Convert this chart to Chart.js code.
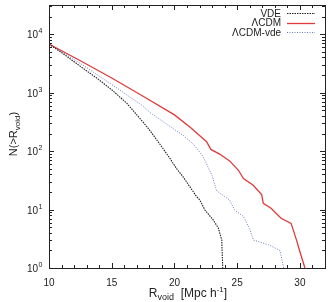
<!DOCTYPE html>
<html><head><meta charset="utf-8">
<script src="https://cdn.jsdelivr.net/npm/chart.js@4"></script>
<style>html,body{margin:0;padding:0;background:#fff}</style>
</head><body>
<canvas id="c" width="331" height="302"></canvas>
<script>
// ---- data ----
const vdeR  = [10, 11.3, 12.5, 13.8, 15, 16.2, 17.0, 17.6, 18.05, 18.9, 19.64, 20.17, 20.7, 21.2, 21.77, 22.03, 22.43, 23.1, 23.5, 23.77, 23.85];
const vdeN  = [6800, 4360, 2820, 1780, 1120, 660, 417, 295, 224, 126, 75, 50, 36, 25, 16.6, 14.5, 9.8, 6.6, 4.8, 3.0, 1];
const lcdmR = [10, 12.5, 15, 17.5, 20, 21.3, 22.56, 22.9, 23.6, 24.4, 25.1, 25.5, 26.28, 26.95, 27.08, 27.7, 28.5, 29.3, 29.73, 30.0, 30.4];
const lcdmN = [6800, 3510, 1780, 870, 417, 251, 145, 107, 89, 68, 47, 34, 26, 18, 12.8, 10.5, 7.1, 5.8, 3.0, 1.9, 1];
const lvdeR = [10, 12.5, 15, 17.5, 18.05, 20.0, 20.7, 21.5, 22.3, 22.7, 23.0, 23.36, 24.4, 24.8, 25.5, 26.0, 26.3, 27.5, 28.4, 28.6, 28.7];
const lvdeN = [6800, 3160, 1380, 590, 457, 234, 186, 132, 80, 52, 38, 21, 14.5, 9.8, 7.6, 4.6, 3.0, 2.5, 2.0, 1.3, 1];
const seriesNames = ['VDE', 'ΛCDM', 'ΛCDM-vde'];
const xTickValues = [10, 15, 20, 25, 30];
const yTickExps = [0, 1, 2, 3, 4];

const pts = (xs, ys) => xs.map((x, i) => ({x: x, y: ys[i]}));

const axesPlugin = {
  id: 'gnuplotAxes',
  afterDraw(chart) {
    const ctx = chart.ctx, a = chart.chartArea;
    const xs = chart.scales.x, ys = chart.scales.y;
    ctx.save();
    ctx.strokeStyle = '#222'; ctx.lineWidth = 1;
    ctx.strokeRect(Math.round(a.left) + 0.5, Math.round(a.top) + 0.5, Math.round(a.right - a.left), Math.round(a.bottom - a.top));
    ctx.beginPath();
    for (let v = 10; v <= 32; v++) {
      const px = Math.round(xs.getPixelForValue(v)) + 0.5;
      const len = (v % 5 === 0) ? 5 : 3;
      ctx.moveTo(px, a.bottom); ctx.lineTo(px, a.bottom - len);
      ctx.moveTo(px, a.top); ctx.lineTo(px, a.top + len);
    }
    for (let e = 0; e <= 4; e++) {
      for (let m = 1; m <= 9; m++) {
        const v = m * Math.pow(10, e);
        if (v > ys.max) break;
        const py = Math.round(ys.getPixelForValue(v)) + 0.5;
        const len = m === 1 ? 5 : 3;
        ctx.moveTo(a.left, py); ctx.lineTo(a.left + len, py);
        ctx.moveTo(a.right, py); ctx.lineTo(a.right - len, py);
      }
    }
    ctx.stroke();

    ctx.fillStyle = '#222';
    ctx.font = '10px "Liberation Sans", Arial, sans-serif';
    ctx.textAlign = 'center'; ctx.textBaseline = 'alphabetic';
    xTickValues.forEach(v => ctx.fillText(String(v), xs.getPixelForValue(v), a.bottom + 18));
    yTickExps.forEach(e => {
      const py = ys.getPixelForValue(Math.pow(10, e));
      ctx.font = '10px "Liberation Sans", Arial, sans-serif';
      ctx.textAlign = 'right';
      const supW = 5;
      const right = a.left - 6;
      ctx.fillText('10', right - supW, py + 4);
      ctx.font = '7px "Liberation Sans", Arial, sans-serif';
      ctx.textAlign = 'left';
      ctx.fillText(String(e), right - supW + 0.5, py - 1);
    });

    {
      const y = 297;
      const parts = [
        {t: 'R', f: 12, dy: 0},
        {t: 'void', f: 9, dy: 3},
        {t: '  [Mpc h', f: 12, dy: 0},
        {t: '-1', f: 8, dy: -5},
        {t: ']', f: 12, dy: 0}
      ];
      let w = 0;
      parts.forEach(p => { ctx.font = p.f + 'px "Liberation Sans", Arial, sans-serif'; p.w = ctx.measureText(p.t).width; w += p.w; });
      let x = 188 - w / 2;
      ctx.textAlign = 'left';
      parts.forEach(p => { ctx.font = p.f + 'px "Liberation Sans", Arial, sans-serif'; ctx.fillText(p.t, x, y + p.dy); x += p.w; });
    }
    {
      ctx.save();
      ctx.translate(17, 134);
      ctx.rotate(-Math.PI / 2);
      const parts = [
        {t: 'N(>R', f: 11, dy: 0},
        {t: 'void', f: 8, dy: 3},
        {t: ')', f: 11, dy: 0}
      ];
      let w = 0;
      parts.forEach(p => { ctx.font = p.f + 'px "Liberation Sans", Arial, sans-serif'; p.w = ctx.measureText(p.t).width; w += p.w; });
      let x = -w / 2;
      ctx.textAlign = 'left';
      parts.forEach(p => { ctx.font = p.f + 'px "Liberation Sans", Arial, sans-serif'; ctx.fillText(p.t, x, p.dy); x += p.w; });
      ctx.restore();
    }
    ctx.font = '10px "Liberation Sans", Arial, sans-serif';
    ctx.textAlign = 'right';
    chart.data.datasets.forEach((ds, i) => {
      const y = 13 + i * 9.5;
      ctx.fillStyle = '#222';
      ctx.fillText(ds.label, 281, y + 3.5);
      ctx.beginPath();
      ctx.strokeStyle = ds.borderColor;
      ctx.lineWidth = ds.borderWidth;
      ctx.setLineDash(ds.borderDash || []);
      ctx.moveTo(287, Math.round(y) + 0.5); ctx.lineTo(315, Math.round(y) + 0.5);
      ctx.stroke();
      ctx.setLineDash([]);
    });
    ctx.restore();
  }
};

new Chart(document.getElementById('c'), {
  type: 'line',
  data: {
    datasets: [
      {label: seriesNames[0], data: pts(vdeR, vdeN), borderColor: '#222', borderWidth: 1.1, borderDash: [1.5, 1], pointRadius: 0, fill: false, tension: 0},
      {label: seriesNames[1], data: pts(lcdmR, lcdmN), borderColor: '#e03a3a', borderWidth: 1.3, pointRadius: 0, fill: false, tension: 0},
      {label: seriesNames[2], data: pts(lvdeR, lvdeN), borderColor: '#6a78c8', borderWidth: 1, borderDash: [1, 1.5], pointRadius: 0, fill: false, tension: 0}
    ]
  },
  options: {
    responsive: false,
    devicePixelRatio: 1,
    animation: false,
    layout: {padding: {left: 49, right: 6, top: 5, bottom: 34}},
    plugins: {legend: {display: false}, tooltip: {enabled: false}},
    scales: {
      x: {type: 'linear', min: 10, max: 32, display: false},
      y: {type: 'logarithmic', min: 1, max: 31623, display: false}
    }
  },
  plugins: [axesPlugin]
});
</script>
</body></html>
